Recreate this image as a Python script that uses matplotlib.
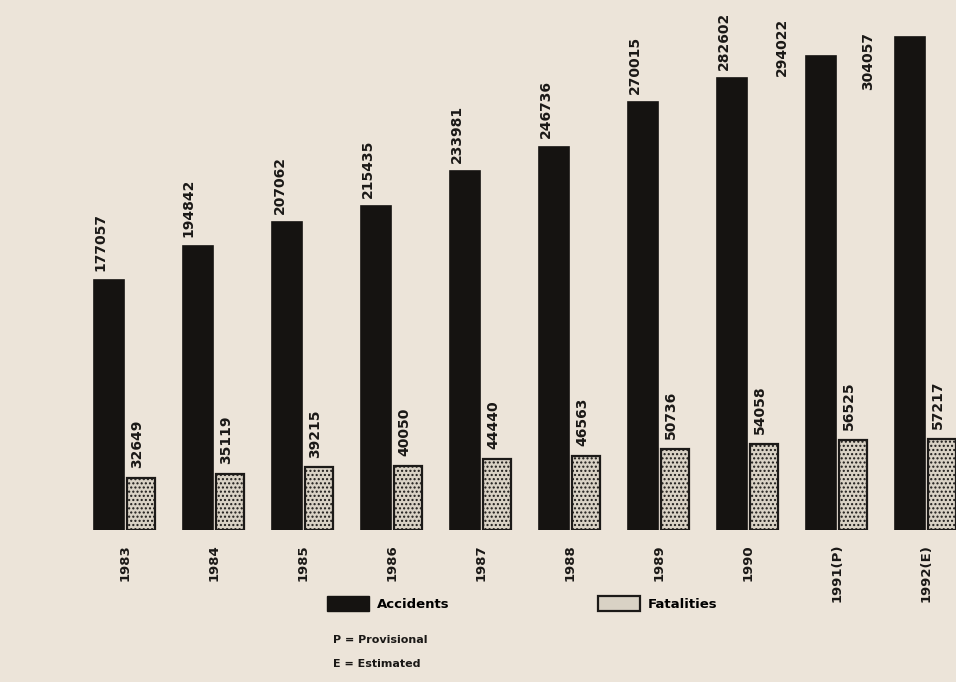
import numpy as np
import matplotlib.pyplot as plt
from matplotlib.patches import Patch

years = ["1983", "1984", "1985", "1986", "1987", "1988", "1989", "1990", "1991(P)", "1992(E)"]
accidents = [177057, 194842, 207062, 215435, 233981, 246736, 270015, 282602, 294022, 304057]
fatalities = [32649, 35119, 39215, 40050, 44440, 46563, 50736, 54058, 56525, 57217]

paper = "#ece4d9"
dark = "#151311"
light = "#d9d2c5"
plt.rcParams["hatch.color"] = "#b5ada0"

fig = plt.figure(figsize=(9.56, 6.82), dpi=100, facecolor=paper)
ax = fig.add_axes([0, 1 - 530 / 682, 1, 510 / 682])
ax2 = ax.twinx()
for a in (ax, ax2):
    a.set_facecolor("none")
    a.axis("off")

x = np.arange(len(years))
w_acc = 0.34
w_fat = 0.32
off = 0.36

ax.bar(x, accidents, width=w_acc, color=dark, edgecolor=dark, linewidth=1.2)
ax2.bar(x + off, fatalities, width=w_fat, color=light, edgecolor="#1c1a18",
        linewidth=1.6, hatch="....")

ax.set_xlim(-1.225, 9.517)
ax2.set_xlim(-1.225, 9.517)
ax.set_ylim(46000, 313000)
ax2.set_ylim(0, 319000)

lab_kw = dict(rotation=90, ha="center", va="bottom", fontsize=10, fontweight="bold",
              color="#1a1816", clip_on=False)

# last two accident labels sit to the left of their bars in the original
acc_dx = [-6, -7, -5, -6, -6, -6, -6, -6, -28, -30]
acc_dy = [6, 6, 6, 6, 6, 6, 6, 6, -14, -38]
for i, v in enumerate(accidents):
    ax.annotate(str(v), (x[i], v), xytext=(acc_dx[i], acc_dy[i]), textcoords="offset points",
                **lab_kw)
for i, v in enumerate(fatalities):
    ax2.annotate(str(v), (x[i] + off, v), xytext=(-3, 7), textcoords="offset points",
                 **lab_kw)

for i, y in enumerate(years):
    ax.annotate(y, (x[i] + off / 2, 46000), xytext=(0, -10), textcoords="offset points",
                rotation=90, ha="center", va="top", fontsize=9.5, fontweight="bold",
                color="#1a1816", clip_on=False)

handles = [Patch(facecolor=dark, edgecolor=dark, label="Accidents"),
           Patch(facecolor=light, edgecolor="#1c1a18", linewidth=1.6, label="Fatalities")]
leg = fig.legend(handles=handles, loc="upper left", bbox_to_anchor=(327 / 956, 1 - 596 / 682),
                 ncol=2, frameon=False, borderpad=0, borderaxespad=0,
                 handlelength=3.2, handleheight=1.4, handletextpad=0.6, columnspacing=11.2,
                 prop={"size": 9.5, "weight": "bold"})

fig.text(333 / 956, 1 - 640 / 682, "P = Provisional", fontsize=8, fontweight="bold",
         color="#1a1816", va="center")
fig.text(333 / 956, 1 - 664 / 682, "E = Estimated", fontsize=8, fontweight="bold",
         color="#1a1816", va="center")

fig.savefig("out.png", dpi=100, facecolor=paper)
